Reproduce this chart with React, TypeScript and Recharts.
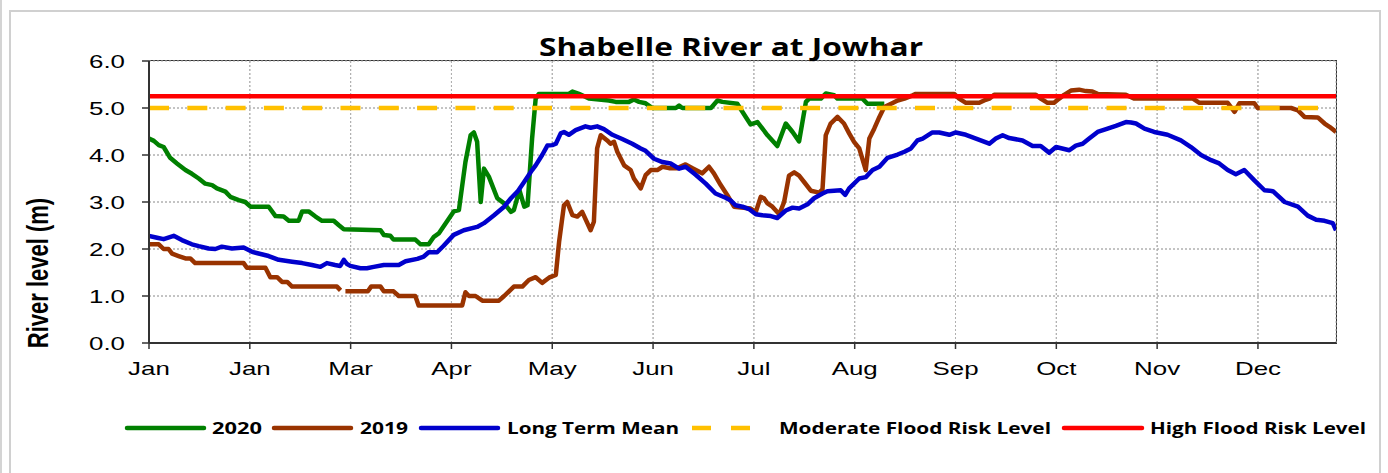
import React from 'react';
import { LineChart, Line, XAxis, YAxis, CartesianGrid } from 'recharts';

// ---- Data (day of year index, river level in m) ----
const monthTicks = [0, 31, 62, 93, 124, 155, 186, 217, 248, 279, 310, 341];
const monthLabels = ['Jan', 'Jan', 'Mar', 'Apr', 'May', 'Jun', 'Jul', 'Aug', 'Sep', 'Oct', 'Nov', 'Dec'];
const levelTicks = [0, 1, 2, 3, 4, 5, 6];
const X_MAX = 365;
const Y_MAX = 6;

const MODERATE_RISK = 5.0;
const HIGH_RISK = 5.25;

const level2020: [number, number | null][] = [
  [0, 4.35], [1.5, 4.3], [3, 4.21], [4.5, 4.17], [6.5, 3.94], [8.6, 3.82], [11.2, 3.68], [13.2, 3.6],
  [15.3, 3.5], [17.3, 3.39], [19.4, 3.36], [20.9, 3.29], [23.5, 3.22], [25, 3.11], [27.6, 3.04], [29.6, 3.0],
  [31.2, 2.9], [36.8, 2.9], [38.9, 2.7], [41.4, 2.69], [43, 2.6], [46, 2.6], [47.1, 2.8], [49.1, 2.8],
  [51.2, 2.69], [53.2, 2.6], [56.8, 2.6], [58.3, 2.51], [59.9, 2.42], [71.2, 2.4], [72.2, 2.3], [74.2, 2.28],
  [75.2, 2.2], [81.9, 2.2], [83.5, 2.1], [86, 2.1], [87.6, 2.26], [89.1, 2.33], [93.7, 2.8], [95.3, 2.83],
  [97.3, 3.85], [98.9, 4.42], [99.9, 4.48], [100.9, 4.28], [102, 3.0], [103, 3.71], [104.5, 3.54], [107.1, 3.08],
  [109.2, 2.97], [111.3, 2.79], [112.2, 2.83], [113.9, 3.25], [115.4, 2.9], [116.4, 2.93], [117.8, 4.35], [118.9, 5.2],
  [119.9, 5.3], [129.1, 5.3], [130.2, 5.35], [132.2, 5.3], [134.2, 5.24], [135.3, 5.2], [141.4, 5.16], [143.5, 5.13],
  [147.6, 5.13], [149.1, 5.18], [150.7, 5.13], [152.7, 5.1], [154.8, 5.0], [162, 5.0], [163, 5.05], [164, 5.0],
  [172.8, 5.0], [174.8, 5.16], [176.3, 5.13], [180.9, 5.09], [183.5, 4.81], [185, 4.65], [187.1, 4.7], [190.2, 4.42],
  [193.2, 4.19], [195.8, 4.67], [197.9, 4.49], [199.9, 4.29], [202, 5.13], [203, 5.2], [206.6, 5.2], [208.1, 5.31],
  [210.7, 5.27], [211.7, 5.2], [219.4, 5.2], [220.9, 5.09], [226.1, 5.09],
];

const level2019: [number, number | null][] = [
  [0, 2.1], [3, 2.1], [4.5, 2.0], [6, 2.0], [7.1, 1.9], [9.1, 1.85], [11.2, 1.8], [12.7, 1.8], [14.2, 1.7],
  [29.1, 1.7], [30.1, 1.6], [35.8, 1.6], [37.3, 1.4], [39.4, 1.4], [40.9, 1.3], [42.5, 1.3], [44, 1.2],
  [57.8, 1.2], [58.9, 1.12], [59.6, null], [60.4, 1.1], [67.3, 1.1], [68.3, 1.2], [71.2, 1.2], [72.2, 1.1],
  [75.2, 1.1], [76.8, 1.0], [81.9, 1.0], [82.9, 0.8], [96.3, 0.8], [97.3, 1.08], [98.4, 1.0], [100.4, 1.0],
  [102.5, 0.9], [107.6, 0.9], [109.2, 1.0], [110.7, 1.1], [112.2, 1.2], [114.8, 1.2], [116.8, 1.34], [118.9, 1.4],
  [120.9, 1.28], [123, 1.39], [125.1, 1.45], [126.1, 2.15], [127.6, 2.93], [128.6, 3.0], [130.2, 2.72], [131.7, 2.69],
  [133.2, 2.79], [135.8, 2.4], [136.8, 2.58], [137.8, 4.14], [138.9, 4.42], [140.9, 4.31], [141.9, 4.24], [143, 4.28],
  [144, 4.07], [146.1, 3.78], [148.1, 3.68], [149.1, 3.5], [151.2, 3.29], [152.7, 3.57], [154.3, 3.68], [156.3, 3.68],
  [157.9, 3.75], [159.9, 3.72], [162.5, 3.72], [165, 3.8], [167.1, 3.72], [170.1, 3.61], [172.2, 3.75], [173.7, 3.61],
  [175.8, 3.36], [177.8, 3.15], [179.9, 2.9], [185, 2.86], [186.6, 2.79], [188.1, 3.11], [189.1, 3.08], [190.2, 2.97],
  [191.7, 2.9], [193.8, 2.74], [195.3, 3.0], [196.8, 3.56], [198.4, 3.63], [199.9, 3.56], [201.5, 3.42], [203.5, 3.24],
  [206.1, 3.2], [207.1, 3.27], [208.1, 4.42], [209.6, 4.67], [211.7, 4.81], [213.7, 4.67], [215.3, 4.46], [216.8, 4.28],
  [218.4, 4.14], [220.4, 3.68], [221.5, 4.35], [223, 4.56], [224.6, 4.81], [226.1, 5.02], [228.2, 5.09], [230.2, 5.16],
  [232.3, 5.2], [234.8, 5.27], [235.8, 5.3], [247.6, 5.3], [249.1, 5.2], [251.2, 5.11], [255.3, 5.11], [256.8, 5.16],
  [258.4, 5.2], [259.9, 5.28], [272.7, 5.28], [274.2, 5.2], [276.3, 5.11], [278.3, 5.11], [279.9, 5.2], [281.4, 5.28],
  [283.5, 5.37], [286, 5.39], [288.1, 5.36], [290.1, 5.35], [291.7, 5.3], [300.4, 5.28], [302, 5.23], [303, 5.2],
  [321, 5.2], [323, 5.11], [331.7, 5.11], [333.8, 4.92], [335.3, 5.1], [339.9, 5.1], [340.9, 5.0], [351.2, 5.0],
  [353.3, 4.95], [355.3, 4.81], [359.4, 4.8], [361.5, 4.67], [363, 4.6], [365, 4.49],
];

const levelMean: [number, number | null][] = [
  [0, 2.28], [2.5, 2.24], [4.5, 2.21], [7.6, 2.28], [10.1, 2.19], [13.2, 2.1], [15.3, 2.06], [18.3, 2.01],
  [20.4, 2.0], [22.4, 2.05], [25.5, 2.01], [29.1, 2.03], [31.7, 1.94], [36.8, 1.85], [39.9, 1.77], [44, 1.73],
  [47.1, 1.7], [50.1, 1.66], [52.7, 1.62], [54.7, 1.7], [57.2, 1.66], [58.8, 1.64], [59.9, 1.77], [60.9, 1.68],
  [61.9, 1.64], [65, 1.59], [67, 1.59], [69.1, 1.62], [72.2, 1.66], [76.8, 1.66], [78.9, 1.74], [82.5, 1.79],
  [84.5, 1.84], [86, 1.93], [88.6, 1.93], [90.6, 2.07], [93.7, 2.3], [96.8, 2.4], [100.9, 2.47], [103, 2.55],
  [106.1, 2.72], [109.2, 2.9], [111.3, 3.08], [113.3, 3.22], [115.4, 3.43], [117.8, 3.68], [118.9, 3.78], [120.9, 4.0],
  [122.5, 4.2], [124, 4.21], [125.1, 4.24], [126.6, 4.46], [127.6, 4.49], [129.1, 4.43], [131.2, 4.53], [134.2, 4.61],
  [135.8, 4.58], [137.8, 4.61], [139.9, 4.55], [142.5, 4.43], [145.5, 4.34], [148.6, 4.24], [151.2, 4.14], [152.7, 4.09],
  [155.3, 3.92], [157.9, 3.85], [160.4, 3.82], [163, 3.71], [165, 3.75], [168.1, 3.58], [171.2, 3.39], [174.2, 3.18],
  [177.3, 3.09], [178.9, 3.03], [180.4, 2.93], [182.5, 2.9], [184.5, 2.85], [186.6, 2.74], [188.6, 2.72], [191.2, 2.7],
  [193.2, 2.66], [195.8, 2.82], [197.9, 2.88], [199.9, 2.86], [202.5, 2.95], [204.5, 3.08], [207.1, 3.18], [208.6, 3.23],
  [212.7, 3.25], [214.1, 3.15], [215.3, 3.29], [218.4, 3.5], [220.4, 3.53], [222.5, 3.68], [224.6, 3.75], [227.1, 3.94],
  [230.2, 4.01], [232.3, 4.07], [234.3, 4.14], [236.3, 4.31], [237.9, 4.35], [240.9, 4.48], [243, 4.48], [246.1, 4.43],
  [248.1, 4.48], [251.2, 4.43], [254.3, 4.35], [258.4, 4.24], [260.4, 4.35], [262.5, 4.42], [264.5, 4.36], [268.6, 4.31],
  [271.7, 4.19], [274.2, 4.19], [276.8, 4.05], [278.9, 4.17], [283, 4.1], [285, 4.2], [287.1, 4.24], [289.1, 4.35],
  [291.7, 4.49], [294.3, 4.55], [297.3, 4.62], [300.4, 4.7], [302, 4.69], [303.5, 4.67], [306.1, 4.56], [309.1, 4.49],
  [313.2, 4.43], [317.3, 4.31], [320.4, 4.17], [323.5, 4.0], [326.6, 3.89], [329.1, 3.82], [331.7, 3.68], [334.2, 3.59],
  [336.8, 3.68], [339.9, 3.46], [343, 3.25], [345.6, 3.23], [349.2, 3.0], [353.3, 2.9], [356.3, 2.71], [358.9, 2.62],
  [361.5, 2.6], [364, 2.55], [365, 2.4],
];

const legendItems = [
  { name: '2020', color: '#008000', dashed: false, lineX: 127, lineW: 77, textX: 212, textW: 50 },
  { name: '2019', color: '#993300', dashed: false, lineX: 274, lineW: 77, textX: 360, textW: 48 },
  { name: 'Long Term Mean', color: '#0000CC', dashed: false, lineX: 421, lineW: 77, textX: 507, textW: 172 },
  { name: 'Moderate Flood Risk Level', color: '#FFC000', dashed: true, lineX: 692, lineW: 58, textX: 779, textW: 272 },
  { name: 'High Flood Risk Level', color: '#FF0000', dashed: false, lineX: 1064, lineW: 78, textX: 1150, textW: 216 },
];

const toRows = (pairs: [number, number | null][]) => pairs.map(([day, v]) => ({ day, v }));
const rows2020 = toRows(level2020);
const rows2019 = toRows(level2019);
const rowsMean = toRows(levelMean);
const hLine = (key: string, v: number) => [{ day: 0, [key]: v }, { day: X_MAX, [key]: v }];
const vLine = (key: string, day: number) => [{ day, [key]: 0 }, { day, [key]: Y_MAX }];

const AXIS_FONT = '"Liberation Sans", Arial, sans-serif';
const BOLD_FONT = '"Open Sans", "Noto Sans", sans-serif';
const LINE_W = 4.5;
const GRID_COLOR = '#b0b0b0';

const XTick = (props: any) => {
  const { x, y, payload } = props;
  const idx = monthTicks.indexOf(payload.value);
  return (
    <text
      transform={`translate(${x},${y + 24}) scale(1.4,1)`}
      textAnchor="middle"
      fontFamily={AXIS_FONT}
      fontSize={18.5}
      fill="#000"
    >
      {idx >= 0 ? monthLabels[idx] : ''}
    </text>
  );
};

const YTick = (props: any) => {
  const { x, y, payload } = props;
  return (
    <text
      transform={`translate(${x - 15},${y + 6.7}) scale(1.4,1)`}
      textAnchor="end"
      fontFamily={AXIS_FONT}
      fontSize={18.5}
      fill="#000"
    >
      {Number(payload.value).toFixed(1)}
    </text>
  );
};

export default function App() {
  return (
    <div style={{ position: 'absolute', left: 0, top: 0, width: 1388, height: 473, background: '#fff', overflow: 'hidden' }}>
      <div style={{ position: 'absolute', left: 0, top: 0, width: 2, height: 473, background: '#d4d4d4' }} />
      <div
        style={{
          position: 'absolute',
          left: 9,
          top: 10,
          width: 1372,
          height: 480,
          border: '2px solid #d0d0d0',
          boxSizing: 'border-box',
        }}
      />
      <div
        style={{
          position: 'absolute',
          left: 149,
          top: 60,
          width: 1188,
          height: 284,
          borderTop: '1px solid #333',
          borderRight: '1px solid #333',
          boxSizing: 'border-box',
        }}
      />
      <div style={{ position: 'absolute', left: 0, top: 0 }}>
        <LineChart data={rowsMean} width={1388} height={473} margin={{ top: 61, right: 52, bottom: 90, left: 0 }}>
          <CartesianGrid stroke={GRID_COLOR} strokeWidth={1} strokeDasharray="2 2" horizontal vertical />
          <XAxis
            dataKey="day"
            type="number"
            domain={[0, X_MAX]}
            ticks={monthTicks}
            interval={0}
            height={40}
            tick={<XTick />}
            tickSize={6}
            axisLine={{ stroke: '#333', strokeWidth: 2 }}
            tickLine={{ stroke: '#333', strokeWidth: 1.5 }}
            allowDataOverflow
          />
          <YAxis
            type="number"
            domain={[0, Y_MAX]}
            ticks={levelTicks}
            interval={0}
            width={149}
            tick={<YTick />}
            tickSize={7}
            axisLine={{ stroke: '#333', strokeWidth: 2 }}
            tickLine={{ stroke: '#333', strokeWidth: 1.5 }}
          />
          {levelTicks.slice(1, -1).map((v) => (
            <Line key={`gy${v}`} name={`gridY${v}`} data={hLine(`gy${v}`, v)} dataKey={`gy${v}`} type="linear" stroke={GRID_COLOR} strokeWidth={1} strokeDasharray="2 2" dot={false} isAnimationActive={false} />
          ))}
          {monthTicks.slice(1).map((d) => (
            <Line key={`gx${d}`} name={`gridX${d}`} data={vLine(`gx${d}`, d)} dataKey={`gx${d}`} type="linear" stroke={GRID_COLOR} strokeWidth={1} strokeDasharray="2 2" dot={false} isAnimationActive={false} />
          ))}
          <Line data={rows2020} dataKey="v" name="2020" type="linear" stroke="#008000" strokeWidth={LINE_W} dot={false} strokeLinejoin="round" isAnimationActive={false} />
          <Line data={rows2019} dataKey="v" name="2019" type="linear" stroke="#993300" strokeWidth={LINE_W} dot={false} strokeLinejoin="round" isAnimationActive={false} />
          <Line data={rowsMean} dataKey="v" name="Long Term Mean" type="linear" stroke="#0000CC" strokeWidth={LINE_W} dot={false} strokeLinejoin="round" isAnimationActive={false} />
          <Line data={hLine('moderate', MODERATE_RISK)} dataKey="moderate" name="Moderate Flood Risk Level" type="linear" stroke="#FFC000" strokeWidth={LINE_W} strokeDasharray="20 18.3" dot={false} isAnimationActive={false} />
          <Line data={hLine('high', HIGH_RISK)} dataKey="high" name="High Flood Risk Level" type="linear" stroke="#FF0000" strokeWidth={LINE_W} dot={false} isAnimationActive={false} />
        </LineChart>
      </div>
      <svg width={1388} height={473} style={{ position: 'absolute', left: 0, top: 0, pointerEvents: 'none' }}>
        <text
          x={731}
          y={56}
          textAnchor="middle"
          fontFamily={BOLD_FONT}
          fontWeight={700}
          fontSize={25}
          textLength={384}
          lengthAdjust="spacingAndGlyphs"
          fill="#000"
        >
          Shabelle River at Jowhar
        </text>
        <text
          transform="translate(47.5,273) scale(1.3,1) rotate(-90)"
          textAnchor="middle"
          fontFamily={AXIS_FONT}
          fontWeight={700}
          fontSize={22}
          fill="#000"
        >
          River level (m)
        </text>
        {legendItems.map((it) => (
          <g key={it.name}>
            <line
              x1={it.lineX}
              x2={it.lineX + it.lineW}
              y1={428}
              y2={428}
              stroke={it.color}
              strokeWidth={4.5}
              strokeLinecap={it.dashed ? 'butt' : 'round'}
              strokeDasharray={it.dashed ? '19 20' : undefined}
            />
            <text
              x={it.textX}
              y={433.5}
              fontFamily={BOLD_FONT}
              fontWeight={700}
              fontSize={16.5}
              textLength={it.textW}
              lengthAdjust="spacingAndGlyphs"
              fill="#000"
            >
              {it.name}
            </text>
          </g>
        ))}
      </svg>
    </div>
  );
}
